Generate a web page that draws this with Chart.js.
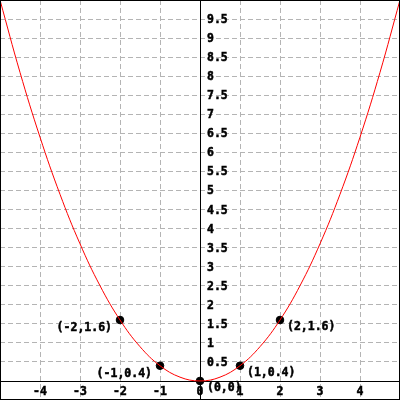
<!doctype html>
<html>
<head>
  <title>y = 0.4x²</title>
  <script src="https://cdn.jsdelivr.net/npm/chart.js"></script>
  <style>
    html, body { margin: 0; padding: 0; background: #fff; }
  </style>
</head>
<body>
<canvas id="chart" width="400" height="400"></canvas>
<script>
    // curve samples
    const curveX = [-5, -4.5, -4, -3.5, -3, -2.5, -2, -1.5, -1, -0.5, 0, 0.5, 1, 1.5, 2, 2.5, 3, 3.5, 4, 4.5, 5];
    const curveY = [10, 8.1, 6.4, 4.9, 3.6, 2.5, 1.6, 0.9, 0.4, 0.1, 0, 0.1, 0.4, 0.9, 1.6, 2.5, 3.6, 4.9, 6.4, 8.1, 10];

    // marked points and their labels
    const markX = [-2, -1, 0, 1, 2];
    const markY = [1.6, 0.4, 0, 0.4, 1.6];
    const markLabels = ['(-2,1.6)', '(-1,0.4)', '(0,0)', '(1,0.4)', '(2,1.6)'];

    // axis tick labels
    const xTicks = [-4, -3, -2, -1, 0, 1, 2, 3, 4];
    const yTickValues = [0.5, 1, 1.5, 2, 2.5, 3, 3.5, 4, 4.5, 5, 5.5, 6, 6.5, 7, 7.5, 8, 8.5, 9, 9.5];
    const yTickLabels = ['0.5', '1', '1.5', '2', '2.5', '3', '3.5', '4', '4.5', '5', '5.5', '6', '6.5', '7', '7.5', '8', '8.5', '9', '9.5'];

    const labelFont = 'bold 11.5px "DejaVu Sans Mono", monospace';

    function boldText(c, s, x, y) {
        c.fillText(s, x, y);
        c.strokeText(s, x, y);
    }

    const axesPlugin = {
        id: 'axes',
        beforeDatasetsDraw(chart) {
            const c = chart.ctx, xs = chart.scales.x, ys = chart.scales.y;
            const x0 = Math.round(xs.getPixelForValue(0)) + 0.5;
            const y0 = Math.round(ys.getPixelForValue(0)) + 0.5;
            c.save();
            c.fillStyle = '#000';
            c.strokeStyle = '#000';
            c.lineWidth = 0.5;
            c.font = labelFont;
            c.textAlign = 'center';
            c.textBaseline = 'middle';
            xTicks.forEach(v => {
                boldText(c, String(v), xs.getPixelForValue(v), y0 + 11);
            });
            c.textAlign = 'left';
            yTickValues.forEach((v, i) => {
                boldText(c, yTickLabels[i], x0 + 6.5, ys.getPixelForValue(v) + 1);
            });

            c.lineWidth = 1;
            c.beginPath();
            c.moveTo(x0, 0); c.lineTo(x0, chart.height);
            c.moveTo(0, y0); c.lineTo(chart.width, y0);
            c.stroke();
            c.restore();
        },
        afterDraw(chart) {
            const c = chart.ctx, xs = chart.scales.x, ys = chart.scales.y;
            c.save();
            c.fillStyle = '#000';
            c.strokeStyle = '#000';
            c.lineWidth = 0.5;
            c.font = labelFont;
            c.textBaseline = 'middle';
            markX.forEach((v, i) => {
                const px = xs.getPixelForValue(v), py = ys.getPixelForValue(markY[i]);
                if (v < 0) {
                    c.textAlign = 'right';
                    boldText(c, markLabels[i], px - 8, py + 8);
                } else {
                    c.textAlign = 'left';
                    boldText(c, markLabels[i], px + 7, py + 7);
                }
            });
            c.lineWidth = 1;
            c.strokeRect(0.5, 0.5, chart.width - 1, chart.height - 1);
            c.restore();
        }
    };

    const gridColor = c => (c.tick && c.tick.value === 0) ? 'rgba(0,0,0,0)' : '#b4b4b4';

    const ctx = document.getElementById('chart').getContext('2d');
    const chart = new Chart(ctx, {
        type: 'scatter',
        data: {
            datasets: [{
                type: 'line',
                data: curveX.map((x, i) => ({ x: x, y: curveY[i] })),
                borderColor: '#ff0000',
                borderWidth: 1,
                pointRadius: 0,
                fill: false,
                tension: 0.4
            }, {
                data: markX.map((x, i) => ({ x: x, y: markY[i] })),
                backgroundColor: '#000',
                borderColor: '#000',
                pointRadius: 3.8,
                pointHoverRadius: 3.8
            }]
        },
        options: {
            responsive: false,
            animation: false,
            events: [],
            layout: { padding: 0, autoPadding: false },
            plugins: { legend: { display: false }, tooltip: { enabled: false } },
            scales: {
                x: {
                    type: 'linear',
                    min: -5,
                    max: 5,
                    ticks: { display: false, stepSize: 1 },
                    grid: { drawTicks: false, color: gridColor },
                    border: { display: false, dash: [5, 3] }
                },
                y: {
                    type: 'linear',
                    min: -0.5,
                    max: 10,
                    ticks: { display: false, stepSize: 0.5 },
                    grid: { drawTicks: false, color: gridColor },
                    border: { display: false, dash: [5, 3] }
                }
            }
        },
        plugins: [axesPlugin]
    });
</script>
</body>
</html>
